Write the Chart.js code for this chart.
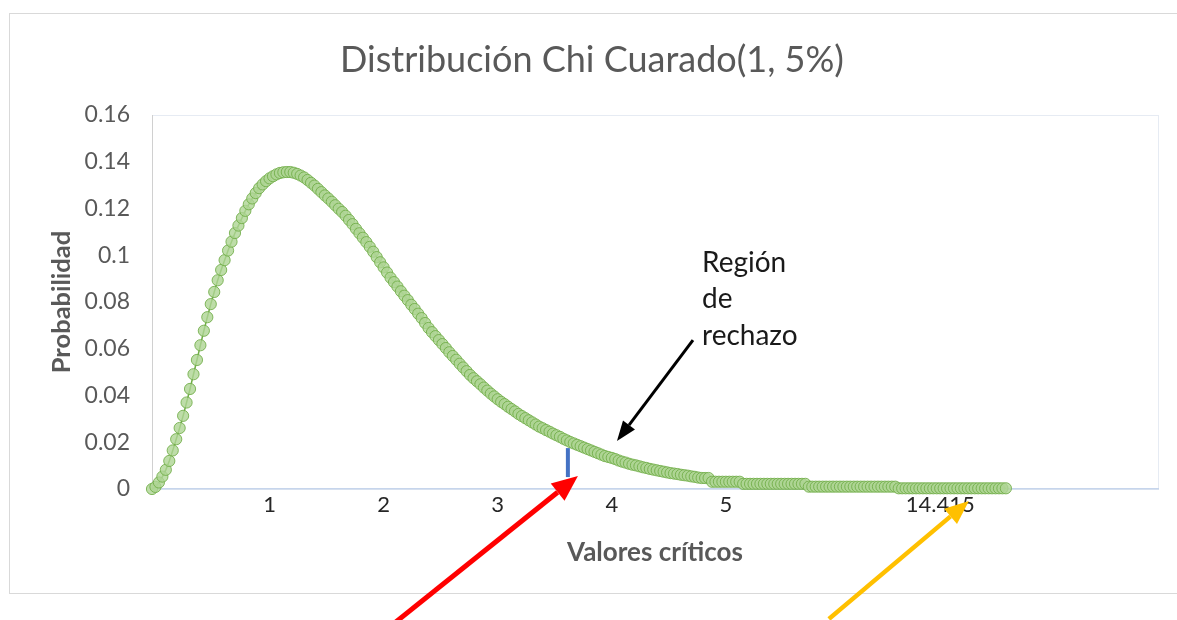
<!DOCTYPE html>
<html>
<head>
<meta charset="utf-8">
<title>Distribución Chi Cuarado</title>
<script src="https://cdn.jsdelivr.net/npm/chart.js@4.4.0/dist/chart.umd.min.js"></script>
<style>
  html, body { margin: 0; padding: 0; background: #fff; }
  #wrap { width: 1177px; height: 620px; }
</style>
</head>
<body>
<div id="wrap"><canvas id="chiChart" width="1177" height="620"></canvas></div>
<script>
// category axis: one slot per point, only a few slots carry a label
const categoryCount = 292;
const tickIndex = [34, 67, 100, 133, 166, 228];
const tickText = ['1', '2', '3', '4', '5', '14.415'];

// probability, one value per category slot
const probabilidad = [
  0.0000, 0.0009, 0.0028, 0.0053, 0.0082, 0.0120, 0.0165, 0.0213, 0.0261, 0.0313,
  0.0370, 0.0428, 0.0491, 0.0552, 0.0615, 0.0677, 0.0735, 0.0791, 0.0843, 0.0893,
  0.0937, 0.0979, 0.1020, 0.1058, 0.1095, 0.1127, 0.1159, 0.1190, 0.1218, 0.1243,
  0.1266, 0.1287, 0.1303, 0.1317, 0.1329, 0.1338, 0.1346, 0.1352, 0.1355, 0.1356,
  0.1356, 0.1353, 0.1348, 0.1341, 0.1333, 0.1322, 0.1310, 0.1298, 0.1284, 0.1270,
  0.1256, 0.1243, 0.1229, 0.1214, 0.1199, 0.1185, 0.1169, 0.1151, 0.1133, 0.1113,
  0.1094, 0.1075, 0.1056, 0.1036, 0.1015, 0.0992, 0.0970, 0.0948, 0.0926, 0.0904,
  0.0885, 0.0866, 0.0846, 0.0827, 0.0808, 0.0788, 0.0770, 0.0750, 0.0731, 0.0710,
  0.0689, 0.0671, 0.0654, 0.0637, 0.0620, 0.0603, 0.0585, 0.0569, 0.0553, 0.0536,
  0.0520, 0.0504, 0.0488, 0.0474, 0.0461, 0.0448, 0.0434, 0.0421, 0.0408, 0.0396,
  0.0384, 0.0373, 0.0363, 0.0352, 0.0342, 0.0332, 0.0321, 0.0312, 0.0303, 0.0294,
  0.0285, 0.0276, 0.0267, 0.0260, 0.0252, 0.0245, 0.0237, 0.0230, 0.0223, 0.0215,
  0.0208, 0.0201, 0.0195, 0.0189, 0.0183, 0.0177, 0.0171, 0.0165, 0.0159, 0.0153,
  0.0147, 0.0141, 0.0137, 0.0133, 0.0128, 0.0122, 0.0117, 0.0113, 0.0108, 0.0104,
  0.0101, 0.0097, 0.0093, 0.0090, 0.0086, 0.0083, 0.0080, 0.0077, 0.0074, 0.0071,
  0.0068, 0.0066, 0.0064, 0.0061, 0.0059, 0.0057, 0.0054, 0.0052, 0.0049, 0.0047,
  0.0047, 0.0047, 0.0031, 0.0031, 0.0031, 0.0031, 0.0031, 0.0031, 0.0031, 0.0031,
  0.0031, 0.0022, 0.0022, 0.0022, 0.0022, 0.0022, 0.0022, 0.0022, 0.0022, 0.0022,
  0.0022, 0.0022, 0.0022, 0.0022, 0.0022, 0.0022, 0.0022, 0.0022, 0.0022, 0.0022,
  0.0010, 0.0010, 0.0010, 0.0010, 0.0010, 0.0010, 0.0010, 0.0010, 0.0010, 0.0010,
  0.0010, 0.0010, 0.0010, 0.0010, 0.0010, 0.0010, 0.0010, 0.0010, 0.0010, 0.0010,
  0.0010, 0.0010, 0.0010, 0.0010, 0.0010, 0.0010, 0.0003, 0.0003, 0.0003, 0.0003,
  0.0003, 0.0003, 0.0003, 0.0003, 0.0003, 0.0003, 0.0003, 0.0003, 0.0003, 0.0003,
  0.0003, 0.0003, 0.0003, 0.0003, 0.0003, 0.0003, 0.0003, 0.0003, 0.0003, 0.0003,
  0.0003, 0.0003, 0.0003, 0.0003, 0.0003, 0.0003, 0.0003, 0.0003
];

const labels = [];
for (let i = 0; i < categoryCount; i++) {
  const k = tickIndex.indexOf(i);
  labels.push(k >= 0 ? tickText[k] : '');
}

// annotations, anchored in axis units (category slot, probability)
const criticalLine = { x: 120.3, from: 0.0051, to: 0.0175 };
const regionText = ['Región', 'de', 'rechazo'];
const regionAnchor = { x: 159.1, y: 0.0967 };
const arrows = [
  { x: 134.5, y: 0.0205, dx: 76, dy: -101, color: '#000000', width: 3, head: 20, headW: 15 },
  { x: 123.2, y: 0.0056, dx: -182, dy: 146, color: '#ff0000', width: 5, head: 26, headW: 22 },
  { x: 236.3, y: -0.0051, dx: -140, dy: 118, color: '#ffc000', width: 4.5, head: 24, headW: 20 }
];

function drawArrow(ctx, tipX, tipY, tailX, tailY, a) {
  const ang = Math.atan2(tipY - tailY, tipX - tailX);
  const bx = tipX - Math.cos(ang) * a.head;
  const by = tipY - Math.sin(ang) * a.head;
  ctx.strokeStyle = a.color;
  ctx.lineWidth = a.width;
  ctx.beginPath();
  ctx.moveTo(tailX, tailY);
  ctx.lineTo(bx, by);
  ctx.stroke();
  ctx.fillStyle = a.color;
  ctx.beginPath();
  ctx.moveTo(tipX, tipY);
  ctx.lineTo(bx + Math.sin(ang) * a.headW / 2, by - Math.cos(ang) * a.headW / 2);
  ctx.lineTo(bx - Math.sin(ang) * a.headW / 2, by + Math.cos(ang) * a.headW / 2);
  ctx.closePath();
  ctx.fill();
}

const decorations = {
  id: 'decorations',
  beforeDraw(chart) {
    const { ctx, chartArea: a } = chart;
    ctx.save();
    ctx.fillStyle = '#ffffff';
    ctx.fillRect(0, 0, chart.width, chart.height);
    ctx.strokeStyle = '#d9d9d9';
    ctx.lineWidth = 1;
    ctx.strokeRect(9.5, 13.5, chart.width, 580);
    ctx.strokeStyle = '#e6ebf3';
    ctx.strokeRect(a.left + 0.5, a.top + 0.5, a.right - a.left, a.bottom - a.top);
    ctx.restore();
  },
  afterDatasetsDraw(chart) {
    const { ctx, scales: { x, y } } = chart;
    ctx.save();
    ctx.strokeStyle = '#4472c4';
    ctx.lineWidth = 4;
    const px = x.getPixelForValue(criticalLine.x);
    ctx.beginPath();
    ctx.moveTo(px, y.getPixelForValue(criticalLine.to));
    ctx.lineTo(px, y.getPixelForValue(criticalLine.from));
    ctx.stroke();
    ctx.restore();
  },
  afterDraw(chart) {
    const { ctx, scales: { x, y } } = chart;
    ctx.save();
    arrows.forEach(a => {
      const tx = x.getPixelForValue(a.x);
      const ty = y.getPixelForValue(a.y);
      drawArrow(ctx, tx, ty, tx + a.dx, ty + a.dy, a);
    });
    ctx.fillStyle = '#1a1a1a';
    ctx.font = '28px Lato';
    ctx.textAlign = 'left';
    ctx.textBaseline = 'middle';
    const tx = x.getPixelForValue(regionAnchor.x);
    const ty = y.getPixelForValue(regionAnchor.y);
    regionText.forEach((t, i) => ctx.fillText(t, tx, ty + i * 36.5));
    ctx.restore();
  }
};

const ctx = document.getElementById('chiChart').getContext('2d');
new Chart(ctx, {
  type: 'line',
  data: {
    labels: labels,
    datasets: [{
      label: 'Probabilidad',
      data: probabilidad,
      borderColor: '#70ad47',
      borderWidth: 1.5,
      pointRadius: 5.6,
      pointBorderWidth: 1,
      pointBackgroundColor: 'rgba(174, 213, 148, 0.8)',
      pointBorderColor: 'rgba(112, 173, 71, 0.85)',
      tension: 0,
      clip: false
    }]
  },
  options: {
    responsive: false,
    animation: false,
    events: [],
    layout: { padding: { left: 26, right: 19, top: 0, bottom: 0 } },
    plugins: {
      legend: { display: false },
      tooltip: { enabled: false },
      title: {
        display: true,
        text: 'Distribución Chi Cuarado(1, 5%)',
        color: '#595959',
        font: { family: 'Lato', size: 36, weight: 'normal' },
        padding: { top: 38.4, bottom: 33.4 }
      }
    },
    scales: {
      x: {
        type: 'category',
        offset: false,
        grid: { display: false, drawTicks: false },
        border: { display: true, color: '#c6d5ec', width: 1.5 },
        ticks: {
          autoSkip: false,
          maxRotation: 0,
          minRotation: 0,
          padding: 3,
          color: '#262626',
          font: { family: 'Lato', size: 22 }
        },
        title: {
          display: true,
          text: 'Valores críticos',
          color: '#595959',
          font: { family: 'Lato', size: 26, weight: 'bold' },
          padding: { top: 0, bottom: 51.4 }
        },
        afterFit(scale) { scale.height = 131; }
      },
      y: {
        min: 0,
        max: 0.16,
        grid: { display: false, drawTicks: false },
        border: { display: true, color: '#d0d0d0', width: 1 },
        ticks: {
          stepSize: 0.02,
          padding: 22,
          color: '#595959',
          font: { family: 'Lato', size: 23 },
          callback: v => String(Number(v.toFixed(2)))
        },
        title: {
          display: true,
          text: 'Probabilidad',
          color: '#595959',
          font: { family: 'Lato', size: 25.5, weight: 'bold' },
          padding: { top: 20.7, bottom: 0 }
        },
        afterFit(scale) { scale.width = 126; }
      }
    }
  },
  plugins: [decorations]
});
</script>
</body>
</html>
